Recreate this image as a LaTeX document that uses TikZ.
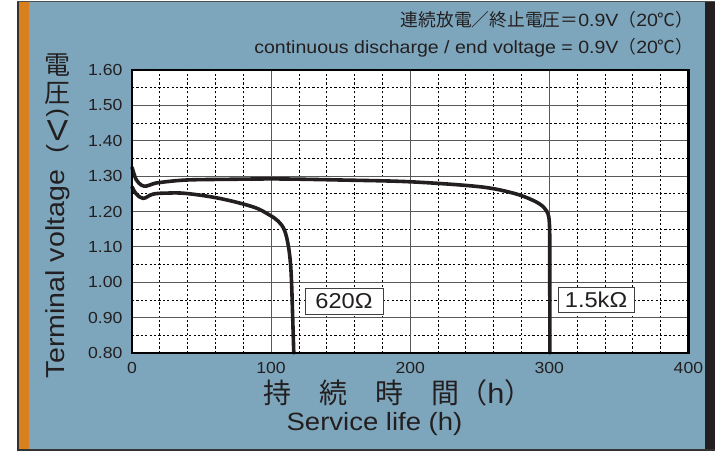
\documentclass[tikz,border=0pt]{standalone}
\usepackage{fontspec}
\setmainfont{Liberation Sans}[FakeStretch=1.1]
\newfontfamily\jp{Noto Sans CJK JP}

\definecolor{panelblue}{RGB}{125,166,188}
\definecolor{edgeorange}{RGB}{216,128,30}
\definecolor{inkdark}{RGB}{35,31,32}

\tikzset{
  gridmajor/.style={black!65, line width=1.2pt},
  gridminor/.style={black, line width=0.7pt, dash pattern=on 2.2pt off 2.2pt},
  curve/.style={inkdark, line width=3.6pt, line join=round, line cap=round},
  loadbox/.style={draw=black!75, line width=0.9pt, fill=white, inner sep=0pt,
    font=\fontsize{21.5}{24}\selectfont},
  ticklabel/.style={font=\fontsize{16}{18}\selectfont},
}

\begin{document}
\begin{tikzpicture}[x=1pt, y=1pt, every node/.style={text=inkdark}]
\useasboundingbox (0,0) rectangle (722,452);

% panel and frame
\fill[white] (0,0) rectangle (722,452);
\fill[panelblue] (19,1) rectangle (705,451);
\fill[edgeorange] (19,1) rectangle (29,451);
\fill[inkdark] (705,1) rectangle (715,451);
\draw[black!80, line width=2pt] (18,451) -- (18,2) -- (715,2); % left and bottom edge
\draw[black!70, line width=1.2pt] (17,450.8) -- (715,450.8);

% header
\node[anchor=base east, font=\fontsize{17.75}{20}\selectfont] (hdrjp) at (697,425.3)
  {{\jp 連続放電／終止電圧＝}0.9V{\jp （}20{\jp ℃）}};
\node[anchor=base east, font=\fontsize{17.75}{20}\selectfont] (hdren) at (697,398.7)
  {continuous discharge / end voltage = 0.9V{\jp （}20{\jp ℃）}};

% plot area: x in hours, y in 0.01 V above 0.80 V
\begin{scope}[shift={(132,99)}, x=1.391pt, y=3.5375pt]
  \fill[white] (0,0) rectangle (400,80);
  \foreach \v in {5,15,...,75}
    \draw[gridminor] (0,\v) -- (400,\v);
  \foreach \h in {20,40,60,80,120,140,160,180,220,240,260,280,320,340,360,380}
    \draw[gridminor] (\h,0) -- (\h,80);
  \foreach \v in {10,20,...,70}
    \draw[gridmajor] (0,\v) -- (400,\v);
  \foreach \h in {100,200,300}
    \draw[gridmajor] (\h,0) -- (\h,80);

  % 1.5 kOhm
  \draw[curve] plot[smooth, tension=0.55] coordinates {
    (0,52.5) (3,49) (7,47.4) (10.5,47.2) (15,47.8) (20,48.2) (39,48.9)
    (70,49.1) (106,49.2) (150,48.9) (200,48.4) (250,47) (274,45.2)
    (288,43.2) (296,41.2) (299.6,38.5) (300.3,33)}
    -- (300.4,0);
  % 620 Ohm
  \draw[curve] plot[smooth, tension=0.6] coordinates {
    (0,47) (3,45) (8,43.7) (15,44.9) (25,45.2) (39,45.1) (63,43.7)
    (87,41.3) (98,39.2) (105,37.3) (109.5,34.8) (112.3,30.5) (114,25)
    (114.9,18)}
    -- (116.3,0);

  \draw[black, line width=2.2pt] (0,0) rectangle (400,80);

  % load labels
  \node[loadbox, minimum width=78pt, minimum height=26pt] (box620) at (152.4,14.7) {620Ω};
  \node[loadbox, minimum width=76pt, minimum height=25pt] (box1k5) at (333.6,15.1) {1.5kΩ};

  % tick labels
  \foreach \v/\t in {0/0.80,10/0.90,20/1.00,30/1.10,40/1.20,50/1.30,60/1.40,70/1.50,80/1.60}
    \node[ticklabel, anchor=east] (ytick\v) at (-4.4,\v) {\t};
  \foreach \h in {0,100,200,300,400}
    \node[ticklabel] (xtick\h) at (\h,-4.1) {\h};
\end{scope}

% axis titles
\node[font=\jp\fontsize{26}{28}\selectfont] (ytitle1) at (57.5,387) {電};
\node[font=\jp\fontsize{26}{28}\selectfont] (ytitle2) at (57.5,358.5) {圧};
\node[rotate=-90, font=\fontsize{24}{26}\selectfont] (ytitle3) at (57.5,339) {(};
\node[font=\fontsize{29}{30}\selectfont] (ytitle4) at (57.5,321) {V};
\node[rotate=-90, font=\fontsize{24}{26}\selectfont] (ytitle5) at (57.5,303.5) {)};
\node[rotate=90, anchor=base, font=\fontsize{26}{28}\selectfont] (ytitleen) at (64.3,178) {Terminal voltage};

\node[anchor=base, font=\jp\fontsize{28}{30}\selectfont] (xtitlejp) at (398,48)
  {持　続　時　間（{\normalfont h}）};
\node[anchor=base, font=\fontsize{25}{28}\selectfont] (xtitleen) at (374.5,21) {Service life (h)};

\end{tikzpicture}
\end{document}
